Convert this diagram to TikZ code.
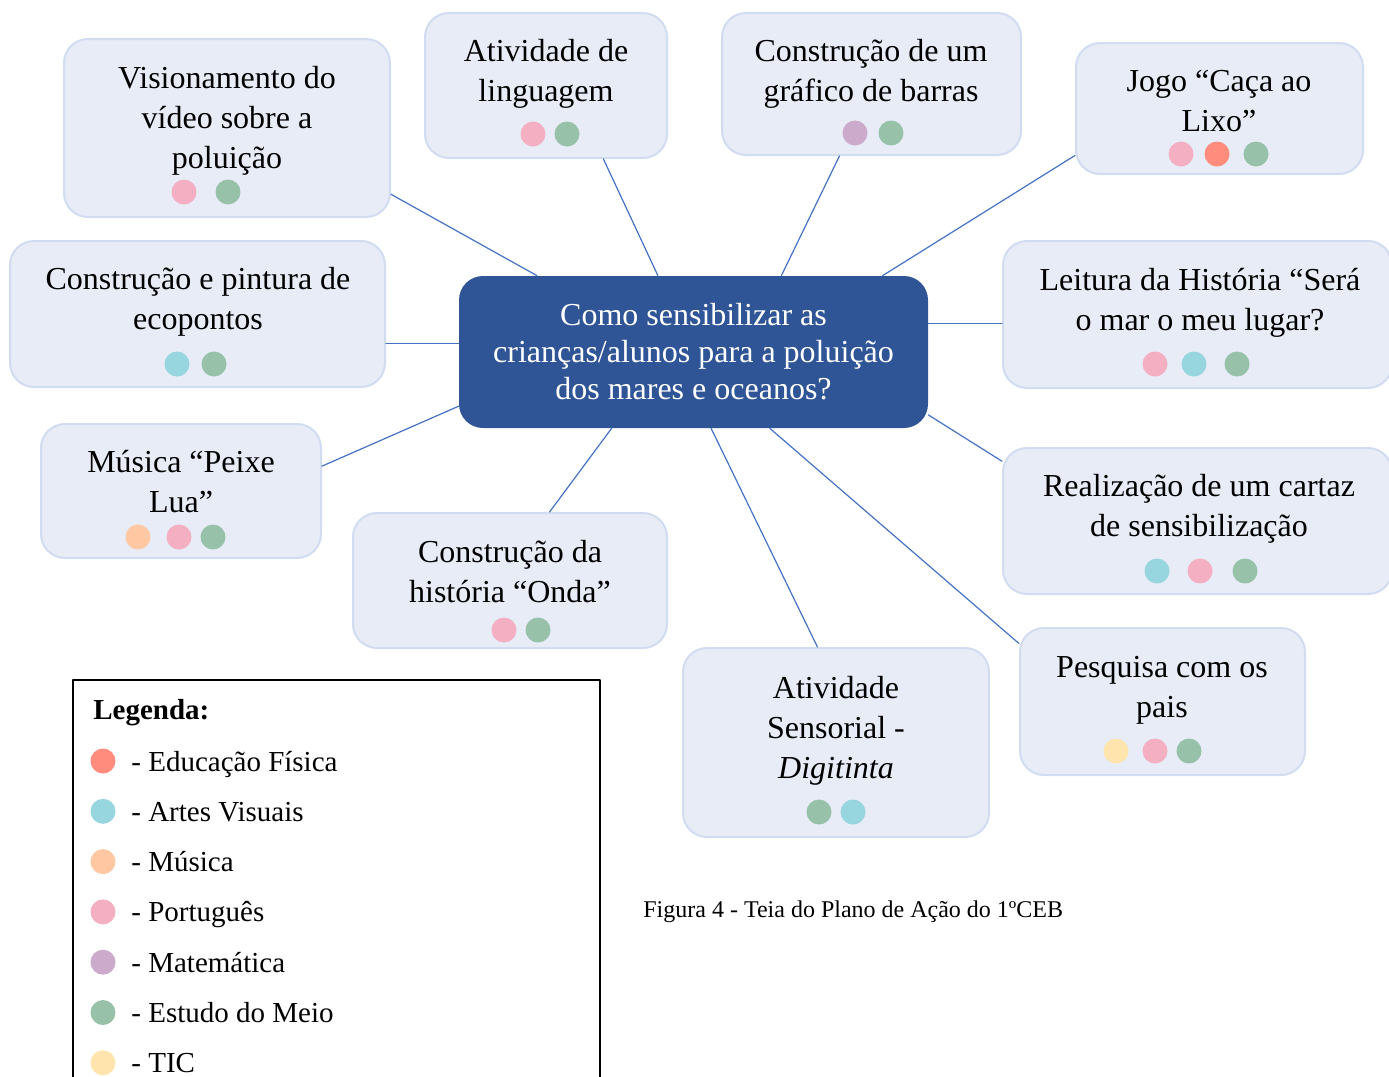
\documentclass[tikz,border=0pt]{standalone}
\usepackage{fontspec}
\setmainfont{Liberation Serif}
\definecolor{boxfill}{HTML}{E7ECF7}
\definecolor{boxline}{HTML}{D2DCF0}
\definecolor{hubblue}{HTML}{2F5597}
\definecolor{linkblue}{HTML}{4472C4}
\definecolor{cPT}{HTML}{F4AFC2}
\definecolor{cEM}{HTML}{97C1A9}
\definecolor{cAV}{HTML}{97D5DF}
\definecolor{cEF}{HTML}{FF8C7C}
\definecolor{cMU}{HTML}{FFC8A2}
\definecolor{cMA}{HTML}{CBAACB}
\definecolor{cTIC}{HTML}{FFE5AD}
\begin{document}
\begin{tikzpicture}[x=0.5pt,y=-0.5pt,line join=round,line cap=round,
		box/.style={draw=boxline,fill=boxfill,line width=1pt,rounded corners=12pt,inner sep=0pt},
		hub/.style={fill=hubblue,text=white,rounded corners=12pt,align=center,inner sep=0pt,
			minimum width=234.5pt,minimum height=76pt,font=\fontsize{16}{18.5}\selectfont},
		txt/.style={align=center,inner sep=0pt,font=\fontsize{16}{20}\selectfont},
		leg/.style={anchor=base west,inner sep=0pt,font=\fontsize{14.5}{17}\selectfont},
		link/.style={draw=linkblue,line width=0.6pt}]
	\useasboundingbox (0,0) rectangle (1389,1077);
	\clip (0,0) rectangle (1389,1077);
	\def\rd{12.5}
	
	% centre
	\node[hub] (cq) at (693.5,352) {Como sensibilizar as\\crianças/alunos para a poluição\\dos mares e oceanos?};
	
	% activities
	\node[box,minimum width=163pt,minimum height=89pt] (vis) at (227,128) {};
	\node[txt] (visT) at (227,121) {Visionamento do\\vídeo sobre a\\poluição};
	\fill[cPT] (184,192) circle (\rd); \fill[cEM] (228,192) circle (\rd);
	
	\node[box,minimum width=121pt,minimum height=72.5pt] (ling) at (546,85.5) {};
	\node[txt] (lingT) at (546,74) {Atividade de\\linguagem};
	\fill[cPT] (533,134) circle (\rd); \fill[cEM] (567,134) circle (\rd);
	
	\node[box,minimum width=149.5pt,minimum height=71pt] (graf) at (871.5,84) {};
	\node[txt] (grafT) at (871,74) {Construção de um\\gráfico de barras};
	\fill[cMA] (855,133) circle (\rd); \fill[cEM] (891,133) circle (\rd);
	
	\node[box,minimum width=143.5pt,minimum height=65.5pt] (jogo) at (1219.5,108.5) {};
	\node[txt] (jogoT) at (1219,100.5) {Jogo “Caça ao\\Lixo”};
	\fill[cPT] (1181,154) circle (\rd); \fill[cEF] (1217,154) circle (\rd); \fill[cEM] (1256,154) circle (\rd);
	
	\node[box,minimum width=187.5pt,minimum height=73pt] (eco) at (197.5,314) {};
	\node[txt] (ecoT) at (198,302) {Construção e pintura de\\ecopontos};
	\fill[cAV] (177,364) circle (\rd); \fill[cEM] (214,364) circle (\rd);
	
	\node[box,minimum width=194.5pt,minimum height=73.5pt] (lei) at (1197.5,314.5) {};
	\node[txt] (leiT) at (1200,303) {Leitura da História “Será\\o mar o meu lugar?};
	\fill[cPT] (1155,364) circle (\rd); \fill[cAV] (1194,364) circle (\rd); \fill[cEM] (1237,364) circle (\rd);
	
	\node[box,minimum width=140pt,minimum height=67pt] (mus) at (181,491) {};
	\node[txt] (musT) at (181,482) {Música “Peixe\\Lua”};
	\fill[cMU] (138,537) circle (\rd); \fill[cPT] (179,537) circle (\rd); \fill[cEM] (213,537) circle (\rd);
	
	\node[box,minimum width=157pt,minimum height=67.5pt] (onda) at (510,580.5) {};
	\node[txt] (ondaT) at (510,572) {Construção da\\história “Onda”};
	\fill[cPT] (504,630) circle (\rd); \fill[cEM] (538,630) circle (\rd);
	
	\node[box,minimum width=194.5pt,minimum height=73pt] (cart) at (1197.5,521) {};
	\node[txt] (cartT) at (1199,509) {Realização de um cartaz\\de sensibilização};
	\fill[cAV] (1157,571) circle (\rd); \fill[cPT] (1200,571) circle (\rd); \fill[cEM] (1245,571) circle (\rd);
	
	\node[box,minimum width=153pt,minimum height=94.5pt] (digi) at (836,742.5) {};
	\node[txt] (digiT) at (836,731) {Atividade\\Sensorial -\\\textit{Digitinta}};
	\fill[cEM] (819,812) circle (\rd); \fill[cAV] (853,812) circle (\rd);
	
	\node[box,minimum width=142.5pt,minimum height=73.5pt] (pesq) at (1162.5,701.5) {};
	\node[txt] (pesqT) at (1162,690.5) {Pesquisa com os\\pais};
	\fill[cTIC] (1116,751) circle (\rd); \fill[cPT] (1155,751) circle (\rd); \fill[cEM] (1189,751) circle (\rd);
	
	% connectors
	\draw[link] (cq.154) -- (vis.-22.6);
	\draw[link] (cq.115) -- (ling.-52.6);
	\draw[link] (cq.41.6) -- (graf.-114.3);
	\draw[link] (cq.22) -- (jogo.-162.8);
	\draw[link] (cq.178) -- (cq.178 -| eco.east);
	\draw[link] (cq.7) -- (cq.7 -| lei.west);
	\draw[link] (cq.-167) -- (mus.10.5);
	\draw[link] (cq.-137) -- (onda.60);
	\draw[link] (cq.-15) -- (cart.163.3);
	\draw[link] (cq.-77.7) -- (digi.101.4);
	\draw[link] (cq.-45.2) -- (pesq.158.4);
	
	% legend
	\draw[line width=1pt] (73,1100) -- (73,680) -- (600,680) -- (600,1100);
	\node[leg] (legT) at (93,719) {\bfseries Legenda:};
	\foreach \c/\t [count=\i from 0] in {cEF/Educação Física,cAV/Artes Visuais,cMU/Música,cPT/Português,cMA/Matemática,cEM/Estudo do Meio,cTIC/TIC}{
		\fill[\c] (103,761+50.3*\i) circle (\rd);
		\node[leg] (leg\i) at (131,771+50.3*\i) {- \t};
	}
	
	\node[anchor=base west,inner sep=0pt,font=\fontsize{12}{14}\selectfont] (cap) at (643,917) {Figura 4 - Teia do Plano de Ação do 1ºCEB};
\end{tikzpicture}
\end{document}
